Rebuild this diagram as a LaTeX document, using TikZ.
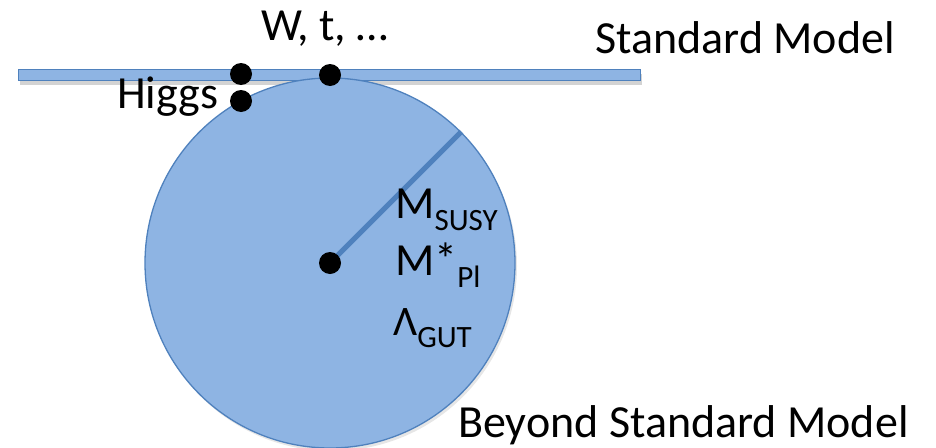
\documentclass[tikz,border=0pt]{standalone}
\usepackage{fontspec}
\setmainfont{Carlito}
\usetikzlibrary{shadows}
\definecolor{smfill}{RGB}{142,180,227}
\definecolor{smedge}{RGB}{79,129,189}
\newcommand{\lowsub}[1]{\raisebox{-12pt}{\fontsize{31}{31}\selectfont #1}}

\begin{document}
\begin{tikzpicture}[x=1pt, y=-1pt,
    lbl/.style={anchor=base west, inner sep=0pt, font=\fontsize{46}{55}\selectfont},
    dot/.style={circle, fill=black, minimum size=22pt, inner sep=0pt}]
  \useasboundingbox (0,0) rectangle (936,447);
  % standard model bar
  \node (smbar) [draw=smedge, line width=1.8pt, fill=smfill, minimum width=622pt, minimum height=11pt, inner sep=0pt,
    drop shadow={shadow xshift=1pt, shadow yshift=-4pt, opacity=0.35}] at (329.5,75) {};
  % beyond standard model disc
  \node (bsm) [circle, draw=smedge, line width=1.3pt, fill=smfill, minimum size=370pt, inner sep=0pt,
    drop shadow={shadow xshift=2pt, shadow yshift=-3pt, opacity=0.2}] at (330,263) {};
  \draw[smedge, line width=5pt] (bsm.center) -- (bsm.45);
  \node (ctr) [dot] at (bsm.center) {};
  \node (wtdot) [dot] at (330,75) {};
  \node (higgsup) [dot] at (241,74) {};
  \node (higgslow) [dot] at (241,101) {};
  % labels
  \node (wtlbl) [lbl] at (261,40) {W, t, …};
  \node (smlbl) [lbl] at (595,53) {Standard Model};
  \node (higgslbl) [lbl] at (117,108) {Higgs};
  \node (bsmlbl) [lbl] at (458,437) {Beyond Standard Model};
  \node (msusy) [lbl] at (395,218) {M\lowsub{SUSY}};
  \node (mpl) [lbl] at (395,275) {M*\lowsub{Pl}};
  \node (lgut) [lbl] at (393,335) {{\fontsize{42}{46}\selectfont Λ}\lowsub{GUT}};
\end{tikzpicture}
\end{document}
